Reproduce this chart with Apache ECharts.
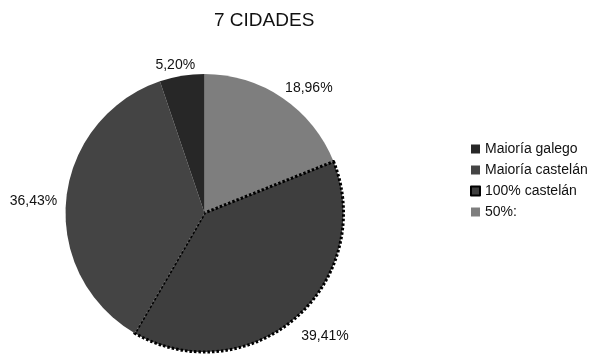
<!DOCTYPE html>
<html>
<head>
<meta charset="utf-8">
<script src="https://cdn.jsdelivr.net/npm/echarts@6/dist/echarts.min.js"></script>
<style>
  html, body { margin: 0; padding: 0; background: #fff; }
  #chart { width: 591px; height: 355px; }
</style>
</head>
<body>
<div id="chart"></div>
<script>
// Categories in clockwise order from 12 o'clock
const categories = ['50%:', '100% castelán', 'Maioría castelán', 'Maioría galego'];
const shares = [18.96, 39.41, 36.43, 5.20];
const legendOrder = ['Maioría galego', 'Maioría castelán', '100% castelán', '50%:'];
const sliceColors = ['#7e7e7e', '#3e3e3e', '#444444', '#272727'];

const FONT = '"Liberation Sans", Arial, sans-serif';
const PIE_CX = 204.5, PIE_CY = 213, PIE_R = 139;

const total = shares.reduce((a, b) => a + b, 0);
const cumStart = [];
shares.reduce((acc, v, i) => { cumStart[i] = acc; return acc + v; }, 0);

const clamp = v => Math.max(-1, Math.min(1, v));

const data = categories.map((name, i) => {
  const item = { name: name, value: shares[i], itemStyle: { color: sliceColors[i] } };
  if (name === '100% castelán') {
    item.itemStyle.borderColor = '#000';
    item.itemStyle.borderWidth = 3;
    item.itemStyle.borderType = [2.5, 2];
  }
  return item;
});

const chart = echarts.init(document.getElementById('chart'), null, { renderer: 'canvas' });
chart.setOption({
  backgroundColor: '#fff',
  animation: false,
  title: {
    text: '7 CIDADES',
    left: 214,
    top: 11,
    padding: 0,
    textStyle: { fontFamily: FONT, fontSize: 19, fontWeight: 'normal', color: '#111' }
  },
  legend: {
    orient: 'vertical',
    left: 470,
    top: 142,
    padding: 0,
    icon: 'rect',
    itemWidth: 9,
    itemHeight: 9,
    itemGap: 7,
    data: legendOrder,
    textStyle: { fontFamily: FONT, fontSize: 14, color: '#111' }
  },
  series: [{
    type: 'pie',
    center: [PIE_CX, PIE_CY],
    radius: PIE_R,
    startAngle: 90,
    clockwise: true,
    avoidLabelOverlap: false,
    data: data,
    label: {
      show: true,
      position: 'outside',
      fontFamily: FONT,
      fontSize: 14,
      color: '#111',
      formatter: p => p.value.toFixed(2).replace('.', ',') + '%'
    },
    labelLine: { show: false },
    // Place each label box just outside the rim along the slice's mid-angle
    labelLayout: function (params) {
      const i = params.dataIndex;
      const mid = (cumStart[i] + shares[i] / 2) / total * 2 * Math.PI;
      const ux = Math.sin(mid), uy = -Math.cos(mid);
      const r = PIE_R + 5;
      const w = params.labelRect.width, h = 20;
      return {
        x: PIE_CX + r * ux + (w / 2) * clamp(1.6 * ux) + 4 * ux,
        y: PIE_CY + r * uy + (h / 2) * clamp(2 * uy) + 4,
        align: 'center',
        verticalAlign: 'middle'
      };
    },
    emphasis: { disabled: true }
  }]
});
</script>
</body>
</html>
